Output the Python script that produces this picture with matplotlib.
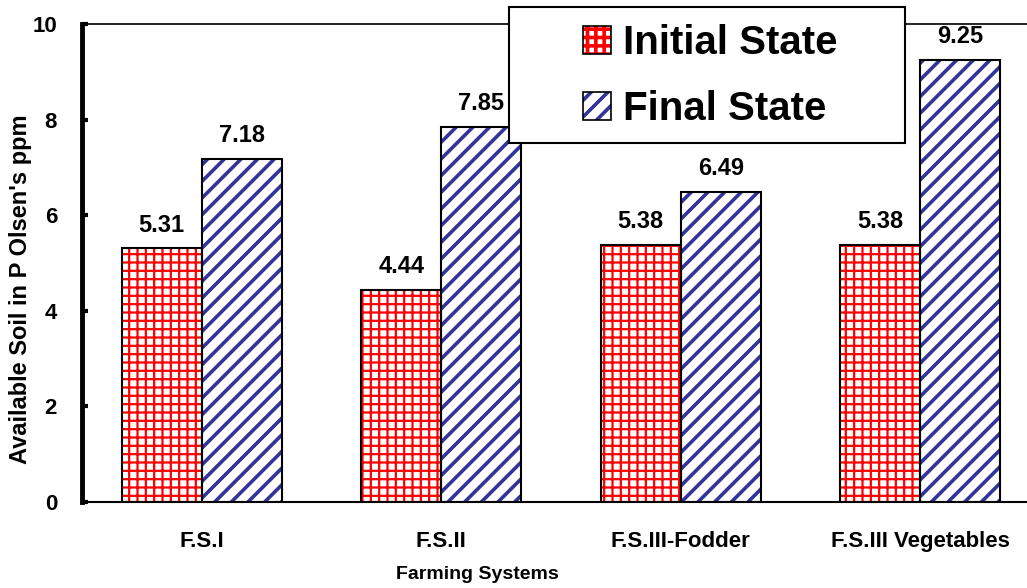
import numpy as np
import matplotlib
matplotlib.use("Agg")
import matplotlib.pyplot as plt
from matplotlib.patches import Patch, Rectangle
from matplotlib.legend_handler import HandlerTuple

plt.rcParams['font.family'] = ['Liberation Sans', 'DejaVu Sans']
plt.rcParams['font.weight'] = 'bold'

systems = ["F.S.I", "F.S.II", "F.S.III-Fodder", "F.S.III Vegetables"]
initial_state = [5.31, 4.44, 5.38, 5.38]
final_state = [7.18, 7.85, 6.49, 9.25]

RED = "#ff0000"
NAVY = "#333399"


def hatched_bars(ax, xs, vals, width, color, hatch, hlw):
    # hatch layer first, then a plain black outline on top
    plt.rcParams['hatch.linewidth'] = hlw
    bars = ax.bar(xs, vals, width, color="white", edgecolor=color,
                  hatch=hatch, linewidth=0, zorder=2)
    for b in bars:
        if hasattr(b, "set_hatch_linewidth"):
            b.set_hatch_linewidth(hlw)
    ax.bar(xs, vals, width, fill=False, edgecolor="black", linewidth=1.5, zorder=3)


def legend_handle(color, hatch, hlw):
    plt.rcParams['hatch.linewidth'] = hlw
    p = Patch(facecolor="white", edgecolor=color, hatch=hatch, linewidth=0)
    if hasattr(p, "set_hatch_linewidth"):
        p.set_hatch_linewidth(hlw)
    edge = Patch(facecolor="none", edgecolor="black", linewidth=1.2)
    return (p, edge)


fig = plt.figure(figsize=(10.27, 5.88), dpi=100)
ax = fig.add_axes([82 / 1027, 1 - 502 / 588, 958 / 1027, 478 / 588])

x = np.arange(len(systems))
w = 0.334
hatched_bars(ax, x - w / 2, initial_state, w, RED, "++", 1.6)
hatched_bars(ax, x + w / 2, final_state, w, NAVY, "//", 2.6)

for xs, vals in [(x - w / 2, initial_state), (x + w / 2, final_state)]:
    for xi, v in zip(xs, vals):
        ax.annotate("{0:.2f}".format(v), (xi, v), xytext=(0, 12),
                    textcoords="offset points", ha="center", va="baseline",
                    fontsize=17, fontweight="bold")

ax.set_xlim(-0.5, 3.5)
ax.set_ylim(0, 10)
ax.set_yticks(range(0, 11, 2))
ax.set_xticks(x)
ax.set_xticklabels(systems)

ax.spines["right"].set_visible(False)
ax.spines["left"].set_linewidth(3.5)
ax.spines["top"].set_linewidth(1.2)
ax.spines["bottom"].set_linewidth(1.5)
ax.tick_params(axis="y", direction="in", length=4.5, width=3, pad=18, labelsize=16)
ax.tick_params(axis="x", length=0, pad=21, labelsize=16)

ax.set_xlabel("Farming Systems", fontsize=14, fontweight="bold")
ax.xaxis.set_label_coords(0.413, -0.133)
ax.set_ylabel("Available Soil in P Olsen's ppm", fontsize=17, fontweight="bold")
ax.yaxis.set_label_coords(-0.052, 0.446)

# legend box sits over the top edge of the plot
fig.add_artist(Rectangle((509 / 1027, 1 - 143 / 588), 396 / 1027, 136 / 588,
                         transform=fig.transFigure, facecolor="white",
                         edgecolor="black", linewidth=1.5, zorder=3))
handles = [legend_handle(RED, "++", 1.6), legend_handle(NAVY, "//", 2.6)]
fig.legend(handles, ["Initial State", "Final State"], loc="center",
           bbox_to_anchor=(710 / 1027, 1 - 76 / 588), frameon=False,
           prop={"size": 29, "weight": "bold"}, handlelength=0.7,
           handleheight=0.7, handletextpad=0.3, labelspacing=0.7,
           handler_map={tuple: HandlerTuple(ndivide=1, pad=0)})

fig.savefig("out.png", dpi=100)
